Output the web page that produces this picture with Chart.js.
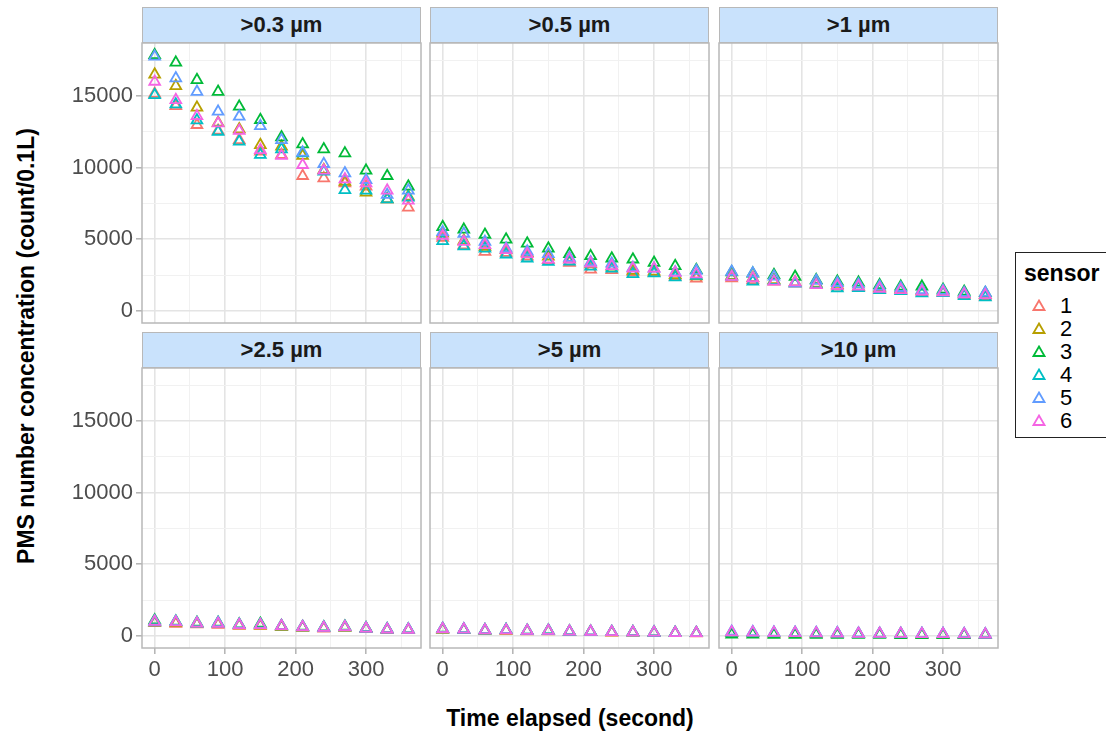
<!DOCTYPE html>
<html>
<head>
<meta charset="utf-8">
<title>PMS number concentration by size bin</title>
<script src="https://cdn.jsdelivr.net/npm/chart.js@4.4.1/dist/chart.umd.min.js"></script>
<style>
  body { margin: 0; background: #fff; }
  #wrap {
    position: relative; width: 1106px; height: 736px; overflow: hidden;
    font-family: "Liberation Sans", Arial, sans-serif; background: #fff;
  }
  #wrap canvas { position: absolute; }
  .strip {
    position: absolute; height: 36px; box-sizing: border-box;
    background: #c9e2fc; border: 1.5px solid #b8b8b8;
    font-weight: bold; font-size: 22px; color: #1a1a1a;
    text-align: center; line-height: 33px;
  }
  .axis-title { position: absolute; font-weight: bold; font-size: 23px; color: #000; white-space: nowrap; }
  #ytitle { left: 26px; top: 346px; transform: translate(-50%, -50%) rotate(-90deg); }
  #xtitle { left: 570px; top: 718px; transform: translate(-50%, -50%); }
  #legend {
    position: absolute; left: 1015px; top: 252px; width: 120px; height: 186px;
    box-sizing: border-box; border: 1.5px solid #222; background: #fff;
  }
  #legend .title { position: absolute; left: 8px; top: 7px; font-weight: bold; font-size: 23px; }
  #legend .item { position: absolute; left: 0; height: 23px; width: 100%; }
  #legend svg { position: absolute; left: 16px; top: 5px; }
  #legend .lab { position: absolute; left: 44px; top: 0; font-size: 22px; line-height: 23px; color: #000; }
</style>
</head>
<body>
<div id="wrap">
  <div id="ytitle" class="axis-title">PMS number concentration (count/0.1L)</div>
  <div id="xtitle" class="axis-title">Time elapsed (second)</div>
  <div id="legend"><div class="title">sensor</div></div>
</div>
<script>
const times = [0, 30, 60, 90, 120, 150, 180, 210, 240, 270, 300, 330, 360];
const sensors = ['1', '2', '3', '4', '5', '6'];
const sensorColors = ['#F8766D', '#B79F00', '#00BA38', '#00BFC4', '#619CFF', '#F564E3'];
const panelLabels = ['>0.3 µm', '>0.5 µm', '>1 µm', '>2.5 µm', '>5 µm', '>10 µm'];
const xTickValues = [0, 50, 100, 150, 200, 250, 300, 350];
const yTickValues = [0, 2500, 5000, 7500, 10000, 12500, 15000, 17500];

// one row per sensor (1..6), one value per time step
const gt03 = [
  [15150, 14300, 12980, 12580, 11930, 11120, 10890, 9420, 9260, 8910, 8680, 7790, 7210],
  [16500, 15700, 14190, 13140, 12680, 11580, 11470, 10820, 9840, 9020, 8260, 7790, 7980],
  [17860, 17330, 16120, 15300, 14260, 13330, 12120, 11630, 11280, 11000, 9790, 9420, 8680],
  [15070, 14420, 13300, 12510, 11820, 10890, 11280, 11000, 9720, 8440, 8400, 7790, 7910],
  [17750, 16240, 15300, 13910, 13560, 12910, 11930, 11050, 10260, 9610, 9140, 8100, 8400],
  [16000, 14720, 13600, 13100, 12580, 11230, 10820, 10190, 9790, 9190, 8910, 8400, 7700]
];
const gt05 = [
  [5100, 4580, 4120, 4050, 3800, 3550, 3360, 2890, 2850, 2700, 2650, 2400, 2250],
  [5400, 4900, 4470, 4240, 4030, 3800, 3600, 3250, 3100, 2800, 2750, 2500, 2420],
  [5860, 5670, 5320, 4980, 4700, 4350, 3960, 3820, 3660, 3590, 3360, 3130, 2850],
  [4880, 4510, 4350, 3940, 3660, 3430, 3450, 3100, 2950, 2570, 2620, 2340, 2450],
  [5500, 5390, 4820, 4350, 4150, 3960, 3700, 3400, 3300, 3000, 2950, 2700, 2800],
  [5250, 4820, 4600, 4240, 3960, 3590, 3590, 3310, 3130, 2960, 2950, 2650, 2550]
];
const gt1 = [
  [2270, 2150, 2040, 1900, 1800, 1700, 1650, 1500, 1420, 1300, 1250, 1100, 1000],
  [2450, 2300, 2150, 2000, 1900, 1800, 1700, 1600, 1500, 1400, 1350, 1200, 1100],
  [2700, 2600, 2500, 2380, 2150, 2040, 1970, 1800, 1690, 1690, 1480, 1340, 1250],
  [2400, 2040, 2100, 1920, 1850, 1570, 1600, 1460, 1380, 1230, 1250, 1040, 950],
  [2730, 2620, 2400, 1920, 2100, 1950, 1850, 1700, 1600, 1450, 1400, 1250, 1270],
  [2380, 2280, 2040, 2000, 1800, 1750, 1700, 1550, 1450, 1350, 1300, 1150, 1100]
];
const gt25 = [
  [900, 850, 800, 780, 700, 700, 620, 560, 520, 560, 480, 420, 400],
  [950, 900, 830, 820, 740, 720, 640, 580, 540, 580, 500, 430, 420],
  [1080, 1000, 920, 920, 800, 850, 700, 640, 600, 650, 540, 470, 450],
  [950, 960, 860, 860, 760, 760, 660, 600, 560, 600, 510, 440, 440],
  [1020, 980, 880, 900, 780, 780, 680, 620, 580, 620, 520, 460, 440],
  [980, 940, 860, 850, 760, 760, 680, 610, 560, 610, 510, 450, 430]
];
const gt5 = [
  [430, 400, 360, 360, 320, 320, 280, 270, 240, 230, 210, 190, 180],
  [450, 420, 380, 380, 340, 340, 300, 280, 250, 240, 220, 200, 190],
  [500, 450, 400, 420, 360, 380, 310, 300, 270, 260, 240, 210, 200],
  [460, 430, 380, 400, 350, 360, 300, 290, 260, 250, 230, 200, 190],
  [490, 460, 400, 400, 360, 360, 310, 290, 270, 250, 230, 210, 200],
  [470, 440, 390, 390, 350, 350, 300, 290, 260, 250, 230, 200, 200]
];
const gt10 = [
  [200, 190, 170, 170, 150, 150, 130, 130, 120, 110, 100, 90, 90],
  [190, 180, 160, 160, 140, 140, 130, 120, 110, 100, 90, 90, 80],
  [100, 90, 80, 80, 80, 70, 70, 70, 60, 60, 50, 50, 50],
  [230, 220, 200, 200, 180, 170, 150, 150, 140, 130, 120, 110, 100],
  [290, 260, 230, 220, 200, 190, 170, 160, 150, 140, 130, 120, 110],
  [250, 230, 210, 200, 180, 170, 150, 150, 140, 130, 120, 110, 100]
];
const panelData = [gt03, gt05, gt1, gt25, gt5, gt10];

Chart.defaults.font.family = "'Liberation Sans', Arial, sans-serif";

const wrap = document.getElementById('wrap');
const colLeft = [142, 430, 719];
const rowTop = [43, 368];
const panelW = 279, panelH = 280;
const axisW = 90, axisH = 50, edge = 2;

const majorGrid = '#e4e4e4', minorGrid = '#f1f1f1', tickMark = '#b3b3b3';

// grey box round each panel, drawn over the points like ggplot's panel.border
const panelBorder = {
  id: 'panelBorder',
  afterDraw(chart) {
    const a = chart.chartArea, ctx = chart.ctx;
    ctx.save();
    ctx.strokeStyle = '#b8b8b8';
    ctx.lineWidth = 1.5;
    ctx.strokeRect(a.left, a.top, a.right - a.left, a.bottom - a.top);
    ctx.restore();
  }
};

function axisOptions(tickValues, majorStep, min, max, showLabels, fitSize, horizontal) {
  return {
    type: 'linear',
    min: min,
    max: max,
    afterBuildTicks: s => { s.ticks = tickValues.map(v => ({ value: v })); },
    afterFit: s => {
      if (horizontal) s.height = fitSize; else s.width = fitSize;
      // keep the plot box fixed: no extra room for overhanging labels
      s.paddingTop = s.paddingBottom = s.paddingLeft = s.paddingRight = 0;
    },
    border: { display: false },
    grid: {
      color: ctx => (ctx.tick && ctx.tick.value % majorStep === 0) ? majorGrid : minorGrid,
      lineWidth: ctx => (ctx.tick && ctx.tick.value % majorStep === 0) ? 1.6 : 1,
      drawTicks: showLabels,
      tickLength: 6,
      tickColor: ctx => (ctx.tick && ctx.tick.value % majorStep === 0) ? tickMark : 'rgba(0,0,0,0)',
      tickWidth: 1.5
    },
    ticks: {
      display: showLabels,
      autoSkip: false,
      maxRotation: 0,
      padding: 3,
      color: '#4d4d4d',
      font: { size: 22 },
      callback: v => (v % majorStep === 0 ? String(v) : '')
    }
  };
}

panelData.forEach((rows, p) => {
  const r = Math.floor(p / 3), c = p % 3;
  const padL = c === 0 ? axisW : edge;
  const padB = r === 1 ? axisH : edge;

  const strip = document.createElement('div');
  strip.className = 'strip';
  strip.textContent = panelLabels[p];
  strip.style.left = colLeft[c] + 'px';
  strip.style.top = (rowTop[r] - 36) + 'px';
  strip.style.width = panelW + 'px';
  wrap.appendChild(strip);

  const cv = document.createElement('canvas');
  cv.width = panelW + padL + edge;
  cv.height = panelH + edge + padB;
  cv.style.left = (colLeft[c] - padL) + 'px';
  cv.style.top = (rowTop[r] - edge) + 'px';
  wrap.appendChild(cv);

  new Chart(cv, {
    type: 'scatter',
    data: {
      datasets: rows.map((vals, i) => ({
        label: sensors[i],
        data: vals.map((v, k) => ({ x: times[k], y: v })),
        pointStyle: 'triangle',
        pointRadius: 6.2,
        pointBorderWidth: 1.8,
        pointBorderColor: sensorColors[i],
        pointBackgroundColor: 'rgba(0,0,0,0)',
        order: sensors.length - 1 - i
      }))
    },
    options: {
      responsive: false,
      animation: false,
      layout: { autoPadding: false, padding: { top: edge, right: edge, left: 0, bottom: 0 } },
      plugins: { legend: { display: false }, tooltip: { enabled: false } },
      scales: {
        x: axisOptions(xTickValues, 100, -18, 378, r === 1, padB, true),
        y: axisOptions(yTickValues, 5000, -850, 18700, c === 0, padL, false)
      }
    },
    plugins: [panelBorder]
  });
});

// legend keys
const legend = document.getElementById('legend');
sensors.forEach((s, i) => {
  const item = document.createElement('div');
  item.className = 'item';
  item.style.top = (41 + i * 23) + 'px';
  item.innerHTML =
    '<svg width="14" height="13" viewBox="0 0 14 13">' +
    '<polygon points="7,1.5 12.5,11 1.5,11" fill="none" stroke="' + sensorColors[i] + '" stroke-width="1.8"/></svg>' +
    '<span class="lab">' + s + '</span>';
  legend.appendChild(item);
});
</script>
</body>
</html>
